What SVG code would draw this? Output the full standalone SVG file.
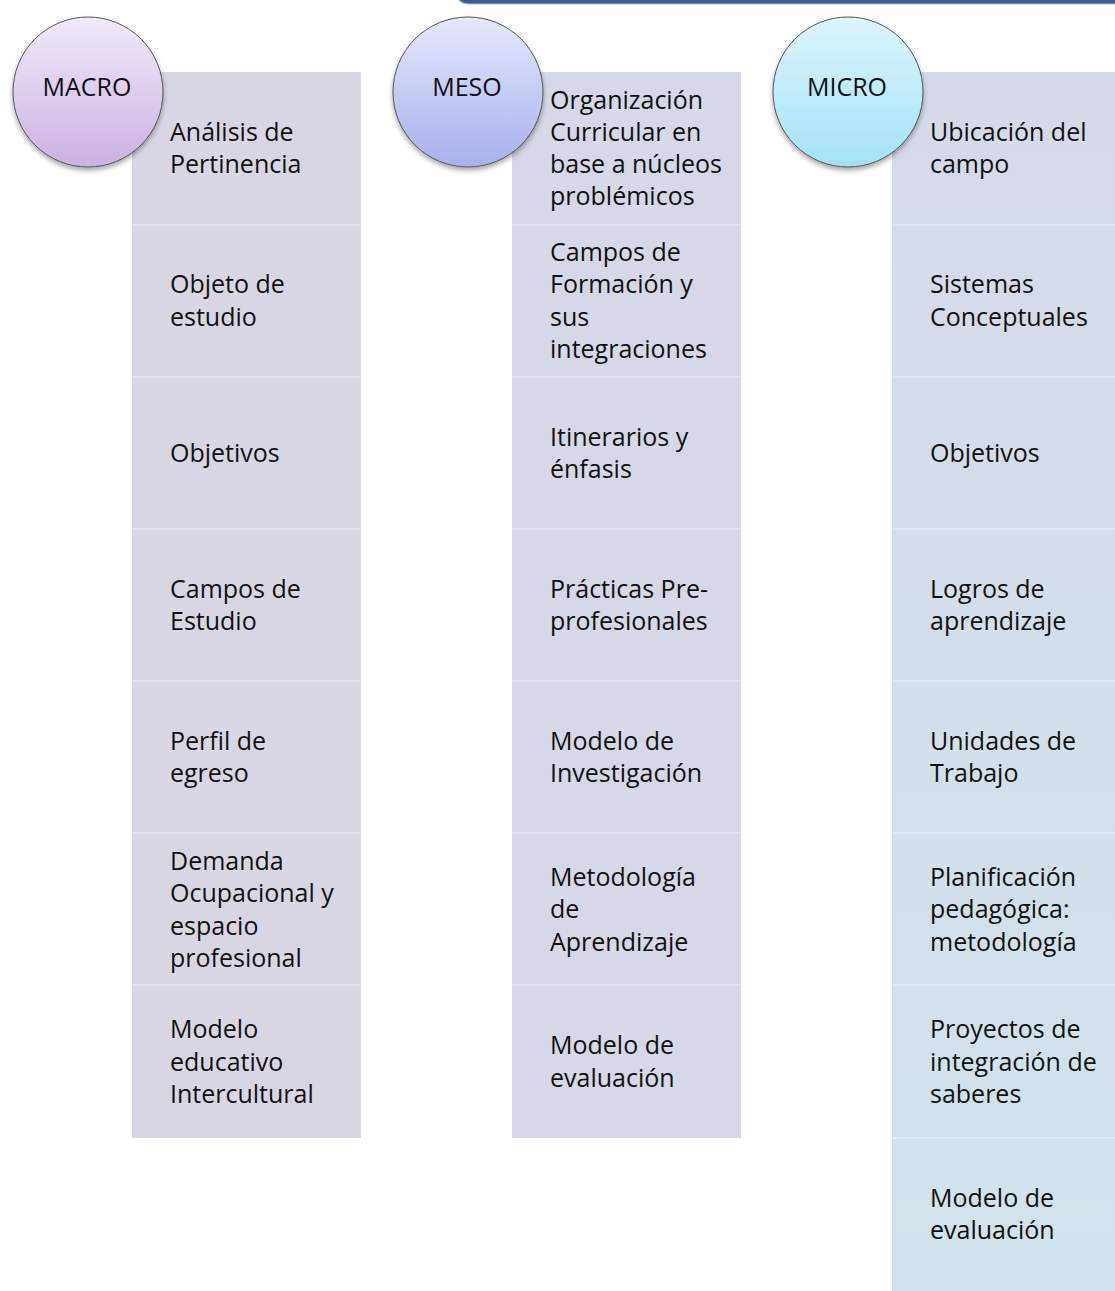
<svg xmlns="http://www.w3.org/2000/svg" width="1115" height="1291" viewBox="0 0 1115 1291">
<defs>
<linearGradient id="gMacro" x1="0" y1="0" x2="0" y2="1"><stop offset="0" stop-color="#f1eaf8"/><stop offset="1" stop-color="#cab2e2"/></linearGradient>
<linearGradient id="gMeso" x1="0" y1="0" x2="0" y2="1"><stop offset="0" stop-color="#e6e8fb"/><stop offset="1" stop-color="#a8b0ee"/></linearGradient>
<linearGradient id="gMicro" x1="0" y1="0" x2="0" y2="1"><stop offset="0" stop-color="#def5fc"/><stop offset="1" stop-color="#a2e2f6"/></linearGradient>
<linearGradient id="gMicroCol" x1="0" y1="0" x2="0" y2="1"><stop offset="0" stop-color="#d6d9e8"/><stop offset="1" stop-color="#d1e3ea"/></linearGradient>
<filter id="sh" x="-20%" y="-20%" width="140%" height="150%"><feDropShadow dx="0" dy="3" stdDeviation="2.5" flood-color="#000" flood-opacity="0.35"/></filter>
</defs>
<style>
text{font-family:"Open Sans","Noto Sans","DejaVu Sans",sans-serif;font-size:25px;fill:#111}
.circ{stroke:#555;stroke-width:1}
.sep{stroke:#ffffff;stroke-opacity:0.3;stroke-width:2}
</style>
<rect x="455" y="-20" width="700" height="24" rx="14" fill="#3d5d8d" stroke="#a9b8d0" stroke-width="1"/>
<g id="col-macro">
<rect x="132" y="72" width="229" height="1066" fill="#d9d6e4"/>
<g class="sep"><line x1="132" y1="225" x2="361" y2="225"/><line x1="132" y1="377" x2="361" y2="377"/><line x1="132" y1="529" x2="361" y2="529"/><line x1="132" y1="681" x2="361" y2="681"/><line x1="132" y1="833" x2="361" y2="833"/><line x1="132" y1="985" x2="361" y2="985"/></g>
<text><tspan x="170" y="141">Análisis de</tspan><tspan x="170" y="173">Pertinencia</tspan></text>
<text><tspan x="170" y="293">Objeto de</tspan><tspan x="170" y="326">estudio</tspan></text>
<text x="170" y="462">Objetivos</text>
<text><tspan x="170" y="598">Campos de</tspan><tspan x="170" y="630">Estudio</tspan></text>
<text><tspan x="170" y="750">Perfil de</tspan><tspan x="170" y="782">egreso</tspan></text>
<text><tspan x="170" y="870">Demanda</tspan><tspan x="170" y="902">Ocupacional y</tspan><tspan x="170" y="935">espacio</tspan><tspan x="170" y="967">profesional</tspan></text>
<text><tspan x="170" y="1038">Modelo</tspan><tspan x="170" y="1071">educativo</tspan><tspan x="170" y="1103">Intercultural</tspan></text>
</g>
<g id="col-meso">
<rect x="512" y="72" width="229" height="1066" fill="#d6d7e7"/>
<g class="sep"><line x1="512" y1="225" x2="741" y2="225"/><line x1="512" y1="377" x2="741" y2="377"/><line x1="512" y1="529" x2="741" y2="529"/><line x1="512" y1="681" x2="741" y2="681"/><line x1="512" y1="833" x2="741" y2="833"/><line x1="512" y1="985" x2="741" y2="985"/></g>
<text><tspan x="550" y="109">Organización</tspan><tspan x="550" y="141">Curricular en</tspan><tspan x="550" y="173">base a núcleos</tspan><tspan x="550" y="205">problémicos</tspan></text>
<text><tspan x="550" y="261">Campos de</tspan><tspan x="550" y="293">Formación y</tspan><tspan x="550" y="326">sus</tspan><tspan x="550" y="358">integraciones</tspan></text>
<text><tspan x="550" y="446">Itinerarios y</tspan><tspan x="550" y="478">énfasis</tspan></text>
<text><tspan x="550" y="598">Prácticas Pre-</tspan><tspan x="550" y="630">profesionales</tspan></text>
<text><tspan x="550" y="750">Modelo de</tspan><tspan x="550" y="782">Investigación</tspan></text>
<text><tspan x="550" y="886">Metodología</tspan><tspan x="550" y="918">de</tspan><tspan x="550" y="951">Aprendizaje</tspan></text>
<text><tspan x="550" y="1054">Modelo de</tspan><tspan x="550" y="1087">evaluación</tspan></text>
</g>
<g id="col-micro">
<rect x="892" y="72" width="223" height="1219" fill="url(#gMicroCol)"/>
<g class="sep"><line x1="892" y1="225" x2="1115" y2="225"/><line x1="892" y1="377" x2="1115" y2="377"/><line x1="892" y1="529" x2="1115" y2="529"/><line x1="892" y1="681" x2="1115" y2="681"/><line x1="892" y1="833" x2="1115" y2="833"/><line x1="892" y1="985" x2="1115" y2="985"/><line x1="892" y1="1138" x2="1115" y2="1138"/></g>
<text><tspan x="930" y="141">Ubicación del</tspan><tspan x="930" y="173">campo</tspan></text>
<text><tspan x="930" y="293">Sistemas</tspan><tspan x="930" y="326">Conceptuales</tspan></text>
<text x="930" y="462">Objetivos</text>
<text><tspan x="930" y="598">Logros de</tspan><tspan x="930" y="630">aprendizaje</tspan></text>
<text><tspan x="930" y="750">Unidades de</tspan><tspan x="930" y="782">Trabajo</tspan></text>
<text><tspan x="930" y="886">Planificación</tspan><tspan x="930" y="918">pedagógica:</tspan><tspan x="930" y="951">metodología</tspan></text>
<text><tspan x="930" y="1038">Proyectos de</tspan><tspan x="930" y="1071">integración de</tspan><tspan x="930" y="1103">saberes</tspan></text>
<text><tspan x="930" y="1207">Modelo de</tspan><tspan x="930" y="1239">evaluación</tspan></text>
</g>
<g id="macro">
<circle cx="88" cy="92" r="75" fill="url(#gMacro)" class="circ" filter="url(#sh)"/>
<text x="87" y="96" text-anchor="middle">MACRO</text>
</g>
<g id="meso">
<circle cx="468" cy="92" r="75" fill="url(#gMeso)" class="circ" filter="url(#sh)"/>
<text x="467" y="96" text-anchor="middle">MESO</text>
</g>
<g id="micro">
<circle cx="848" cy="92" r="75" fill="url(#gMicro)" class="circ" filter="url(#sh)"/>
<text x="847" y="96" text-anchor="middle">MICRO</text>
</g>
</svg>
